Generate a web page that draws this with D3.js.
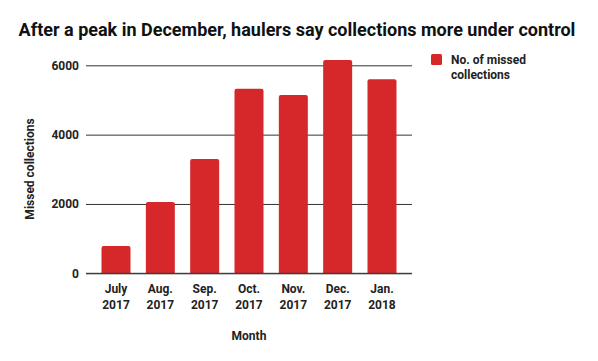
<!DOCTYPE html>
<html><head><meta charset="utf-8">
<script src="https://cdn.jsdelivr.net/npm/d3@7"></script>
<style>body{margin:0;background:#fff}svg{display:block;font-family:Roboto,sans-serif}</style>
</head><body><svg id="c" width="598" height="361"></svg>
<script>
const months = ["July 2017","Aug. 2017","Sep. 2017","Oct. 2017","Nov. 2017","Dec. 2017","Jan. 2018"];
const missed = [790, 2060, 3300, 5320, 5140, 6150, 5600];
const yTicks = [0, 2000, 4000, 6000];
const title = "After a peak in December, haulers say collections more under control";
const seriesName = "No. of missed collections";
const color = "#d6282b";

const svg = d3.select("#c");
const x = d3.scaleBand().domain(months).range([86, 412]).paddingInner(0.346).paddingOuter(0.35);
const y = d3.scaleLinear().domain([0, 6000]).range([273.3, 65.3]);

svg.append("text").attr("x", 297).attr("y", 36).attr("text-anchor", "middle")
  .attr("font-size", 18).attr("font-weight", "bold").attr("fill", "#111").text(title);

const yAxis = svg.append("g").attr("transform", "translate(86,0)")
  .call(d3.axisLeft(y).tickValues(yTicks).tickSize(-326).tickFormat(d3.format("d")));
yAxis.select(".domain").remove();
yAxis.selectAll("line").attr("stroke", "#333");
yAxis.selectAll("text").attr("x", -7).attr("font-size", 12).attr("font-weight", "bold")
  .attr("fill", "#222").attr("font-family", "Roboto");

svg.append("g").selectAll("path").data(months).join("path")
  .attr("fill", color)
  .attr("d", (m, i) => {
    const x0 = x(m), w = x.bandwidth(), y0 = y(missed[i]), yb = y(0), r = 2;
    return `M${x0},${yb}V${y0 + r}Q${x0},${y0} ${x0 + r},${y0}H${x0 + w - r}Q${x0 + w},${y0} ${x0 + w},${y0 + r}V${yb}Z`;
  });

svg.append("line").attr("x1", 86).attr("x2", 412).attr("y1", y(0)).attr("y2", y(0))
  .attr("stroke", "#333").attr("stroke-width", 1);

const xl = svg.append("g").selectAll("text").data(months).join("text")
  .attr("text-anchor", "middle").attr("font-size", 12).attr("font-weight", "bold").attr("fill", "#222");
xl.each(function (m) {
  const parts = m.split(" ");
  const t = d3.select(this);
  parts.forEach((p, j) => t.append("tspan").attr("x", x(m) + x.bandwidth() / 2).attr("y", 293 + j * 15.5).text(p));
});

svg.append("text").attr("x", 249).attr("y", 340).attr("text-anchor", "middle")
  .attr("font-size", 12).attr("font-weight", "bold").attr("fill", "#222").text("Month");

svg.append("text").attr("transform", "translate(34,169) rotate(-90)").attr("text-anchor", "middle")
  .attr("font-size", 12).attr("font-weight", "bold").attr("fill", "#222").text("Missed collections");

svg.append("rect").attr("x", 431).attr("y", 54).attr("width", 11).attr("height", 11).attr("rx", 1.5).attr("fill", color);
const lg = svg.append("text").attr("font-size", 12).attr("font-weight", "bold").attr("fill", "#222");
lg.append("tspan").attr("x", 451).attr("y", 64).text("No. of missed");
lg.append("tspan").attr("x", 451).attr("y", 79).text("collections");
</script></body></html>
